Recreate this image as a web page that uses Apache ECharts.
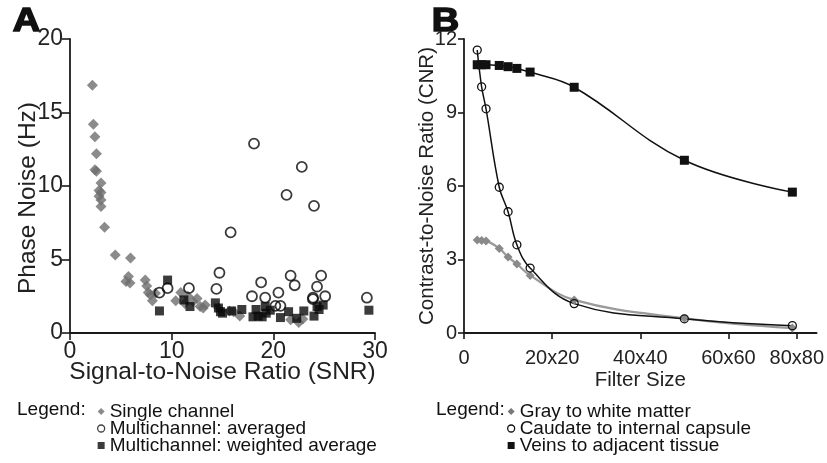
<!DOCTYPE html>
<html>
<head>
<meta charset="utf-8">
<script src="https://cdn.jsdelivr.net/npm/echarts@6/dist/echarts.min.js"></script>
<style>
  html, body { margin: 0; padding: 0; background: #fff; }
  #chart { width: 827px; height: 463px; }
</style>
</head>
<body>
<div id="chart"></div>
<script>
// Panel A: SNR vs phase noise, [snr, Hz]
var singleChannel = [
  [2.2,16.85],[2.3,14.2],[2.45,13.35],[2.6,12.2],[2.45,11.1],[2.6,11.0],[3.05,10.2],[2.85,9.7],
  [3.05,9.55],[2.85,9.3],[3.05,9.05],[3.05,8.6],[3.4,7.2],[4.45,5.3],[5.95,5.1],[5.75,3.85],
  [5.5,3.5],[5.9,3.4],[7.4,3.6],[7.55,3.2],[7.7,2.75],[7.9,2.6],[8.1,2.2],[8.4,2.7],
  [10.4,2.2],[10.9,2.75],[11.3,2.0],[11.6,2.5],[12.1,2.15],[12.5,2.35],[12.8,1.8],[13.1,1.7],
  [13.3,1.9],[14.6,1.7],[15.7,1.5],[16.1,1.45],[16.7,1.15],[21.7,0.9],[22.5,0.72],[22.9,0.95]
];
var multiAveraged = [
  [8.8,2.75],[9.6,3.05],[11.7,3.05],[14.4,3.0],[14.7,4.1],[15.8,6.85],[17.9,2.5],[18.1,12.88],
  [18.8,3.45],[19.2,2.4],[20.2,1.85],[20.5,2.75],[20.7,1.85],[21.3,9.4],[21.7,3.9],[22.1,3.25],
  [22.8,11.3],[23.9,2.4],[23.9,2.3],[24.0,8.65],[24.3,3.15],[24.7,3.9],[25.1,2.5],[29.2,2.4]
];
var multiWeighted = [
  [8.8,1.5],[9.6,3.6],[11.2,2.25],[11.8,1.8],[14.3,2.05],[14.6,1.7],[14.8,1.45],[15.0,1.35],
  [15.9,1.5],[16.9,1.6],[18.0,1.1],[18.3,1.6],[18.5,1.15],[18.9,1.1],[19.2,1.8],[19.3,1.35],
  [19.7,1.55],[20.7,1.05],[21.5,1.45],[22.3,1.0],[23.0,1.5],[24.0,1.15],[24.3,1.8],[24.5,1.6],
  [24.9,1.9],[29.4,1.55]
];

// Panel B: filter size vs CNR
var filterPos = [3, 4, 5, 8, 10, 12, 15, 25, 50, 74.5];
var grayWhite = [3.8, 3.78, 3.76, 3.45, 3.1, 2.82, 2.35, 1.35, 0.6, 0.2];
var caudate = [11.55, 10.05, 9.15, 5.95, 4.95, 3.6, 2.65, 1.2, 0.58, 0.3];
var veins = [10.95, 10.95, 10.95, 10.92, 10.87, 10.8, 10.65, 10.03, 7.05, 5.75];
var filterTicks = [0, 20, 40, 60, 75.5];
var filterTickLabels = ['0', '20x20', '40x40', '60x60', '80x80'];

var namesA = ['Single channel', 'Multichannel: averaged', 'Multichannel: weighted average'];
var namesB = ['Gray to white matter', 'Caudate to internal capsule', 'Veins to adjacent tissue'];

function pairs(xs, ys) {
  return xs.map(function (x, i) { return [x, ys[i]]; });
}

// always hands back a string, whatever value the axis passes in
function filterLabel(v) {
  var n = Number(v && v.value !== undefined ? v.value : v);
  for (var i = 0; i < filterTicks.length; i++) {
    if (Math.abs(filterTicks[i] - n) < 0.01) return filterTickLabels[i];
  }
  return '';
}

var font = 'Liberation Sans, Arial, sans-serif';
var ink = '#1a1a1a';
function line() { return { show: true, lineStyle: { color: ink, width: 1.8 } }; }
function tick(len) { return { show: true, length: len, lineStyle: { color: ink, width: 1.6 } }; }
function lab(size, margin) { return { color: '#222', fontSize: size, fontFamily: font, margin: margin }; }
function nm(size) { return { color: '#222', fontSize: size, fontFamily: font }; }
var legendText = { fontSize: 19, lineHeight: 16.5, fontFamily: font, color: '#111' };

var chart = echarts.init(document.getElementById('chart'));
chart.setOption({
  animation: false,
  backgroundColor: '#fff',
  grid: [
    { left: 70, top: 39, width: 305, height: 294 },
    { left: 464, top: 39, width: 354, height: 294 }
  ],
  xAxis: [
    {
      gridIndex: 0, type: 'value', min: 0, max: 30, interval: 10,
      name: 'Signal-to-Noise Ratio (SNR)', nameLocation: 'middle', nameGap: 27, nameMoveOverlap: false,
      nameTextStyle: nm(24.5),
      axisLine: line(), axisTick: tick(7), axisLabel: lab(23, 7),
      splitLine: { show: false }
    },
    {
      gridIndex: 1, type: 'value', min: 0, max: 80,
      name: 'Filter Size', nameLocation: 'middle', nameGap: 37, nameMoveOverlap: false,
      nameTextStyle: nm(20.5),
      axisLine: line(),
      axisTick: Object.assign({ customValues: filterTicks }, tick(6)),
      axisLabel: Object.assign({ customValues: filterTicks, formatter: filterLabel }, lab(20, 15)),
      splitLine: { show: false }
    }
  ],
  yAxis: [
    {
      gridIndex: 0, type: 'value', min: 0, max: 20, interval: 5,
      name: 'Phase Noise (Hz)', nameLocation: 'middle', nameGap: 29, nameMoveOverlap: false,
      nameTextStyle: Object.assign({ padding: [0, 24, 0, 0] }, nm(24.5)),
      axisLine: line(), axisTick: tick(8), axisLabel: lab(23, 7),
      splitLine: { show: false }
    },
    {
      gridIndex: 1, type: 'value', min: 0, max: 12, interval: 3,
      name: 'Contrast-to-Noise Ratio (CNR)', nameLocation: 'middle', nameGap: 26, nameMoveOverlap: false,
      nameTextStyle: nm(20.5),
      axisLine: line(), axisTick: tick(6), axisLabel: lab(20, 7),
      splitLine: { show: false }
    }
  ],
  legend: [
    {
      left: 97, top: 402, padding: 0, orient: 'vertical', itemGap: -2, itemWidth: 7, itemHeight: 7,
      textStyle: legendText,
      data: [
        { name: namesA[0], icon: 'diamond' },
        { name: namesA[1], icon: 'circle', itemStyle: { color: '#fff', borderColor: '#111', borderWidth: 1.3 } },
        { name: namesA[2], icon: 'rect' }
      ]
    },
    {
      left: 507, top: 402, padding: 0, orient: 'vertical', itemGap: -2, itemWidth: 7, itemHeight: 7,
      textStyle: legendText,
      data: [
        { name: namesB[0], icon: 'diamond', itemStyle: { color: '#777' } },
        { name: namesB[1], icon: 'circle', itemStyle: { color: '#fff', borderColor: '#111', borderWidth: 1.3 } },
        { name: namesB[2], icon: 'rect', itemStyle: { color: '#111' } }
      ]
    }
  ],
  graphic: [
    { id: 'labA', type: 'text', left: 12, top: 5, scaleX: 1.15, style: { text: 'A', fontSize: 33, fontWeight: 'bold', fontFamily: font, fill: '#111', stroke: '#111', lineWidth: 1.5 } },
    { id: 'labB', type: 'text', left: 431, top: 5, scaleX: 1.15, style: { text: 'B', fontSize: 33, fontWeight: 'bold', fontFamily: font, fill: '#111', stroke: '#111', lineWidth: 1.5 } },
    { id: 'legA', type: 'text', left: 17, top: 400, style: { text: 'Legend:', fontSize: 19, fontFamily: font, fill: '#111' } },
    { id: 'legB', type: 'text', left: 436, top: 400, style: { text: 'Legend:', fontSize: 19, fontFamily: font, fill: '#111' } }
  ],
  series: [
    {
      name: namesA[0], type: 'scatter', xAxisIndex: 0, yAxisIndex: 0,
      symbol: 'diamond', symbolSize: 11,
      itemStyle: { color: '#6e6e6e' },
      data: singleChannel
    },
    {
      name: namesA[2], type: 'scatter', xAxisIndex: 0, yAxisIndex: 0,
      symbol: 'rect', symbolSize: 9,
      itemStyle: { color: '#0a0a0a' },
      data: multiWeighted
    },
    {
      name: namesA[1], type: 'scatter', xAxisIndex: 0, yAxisIndex: 0,
      symbol: 'circle', symbolSize: 10,
      itemStyle: { color: 'rgba(255,255,255,0)', borderColor: '#0a0a0a', borderWidth: 1.8 },
      data: multiAveraged
    },
    {
      name: namesB[0], type: 'line', xAxisIndex: 1, yAxisIndex: 1, smooth: 0.4,
      symbol: 'diamond', symbolSize: 9,
      lineStyle: { color: '#9a9a9a', width: 2.2 },
      itemStyle: { color: '#8a8a8a' },
      data: pairs(filterPos, grayWhite)
    },
    {
      name: namesB[1], type: 'line', xAxisIndex: 1, yAxisIndex: 1, smooth: 0.4,
      symbol: 'circle', symbolSize: 8,
      lineStyle: { color: '#111', width: 1.5 },
      itemStyle: { color: 'rgba(255,255,255,0)', borderColor: '#111', borderWidth: 1.3 },
      data: pairs(filterPos, caudate)
    },
    {
      name: namesB[2], type: 'line', xAxisIndex: 1, yAxisIndex: 1, smooth: 0.4,
      symbol: 'rect', symbolSize: 9,
      lineStyle: { color: '#111', width: 1.5 },
      itemStyle: { color: '#111' },
      data: pairs(filterPos, veins)
    }
  ]
});
</script>
</body>
</html>
